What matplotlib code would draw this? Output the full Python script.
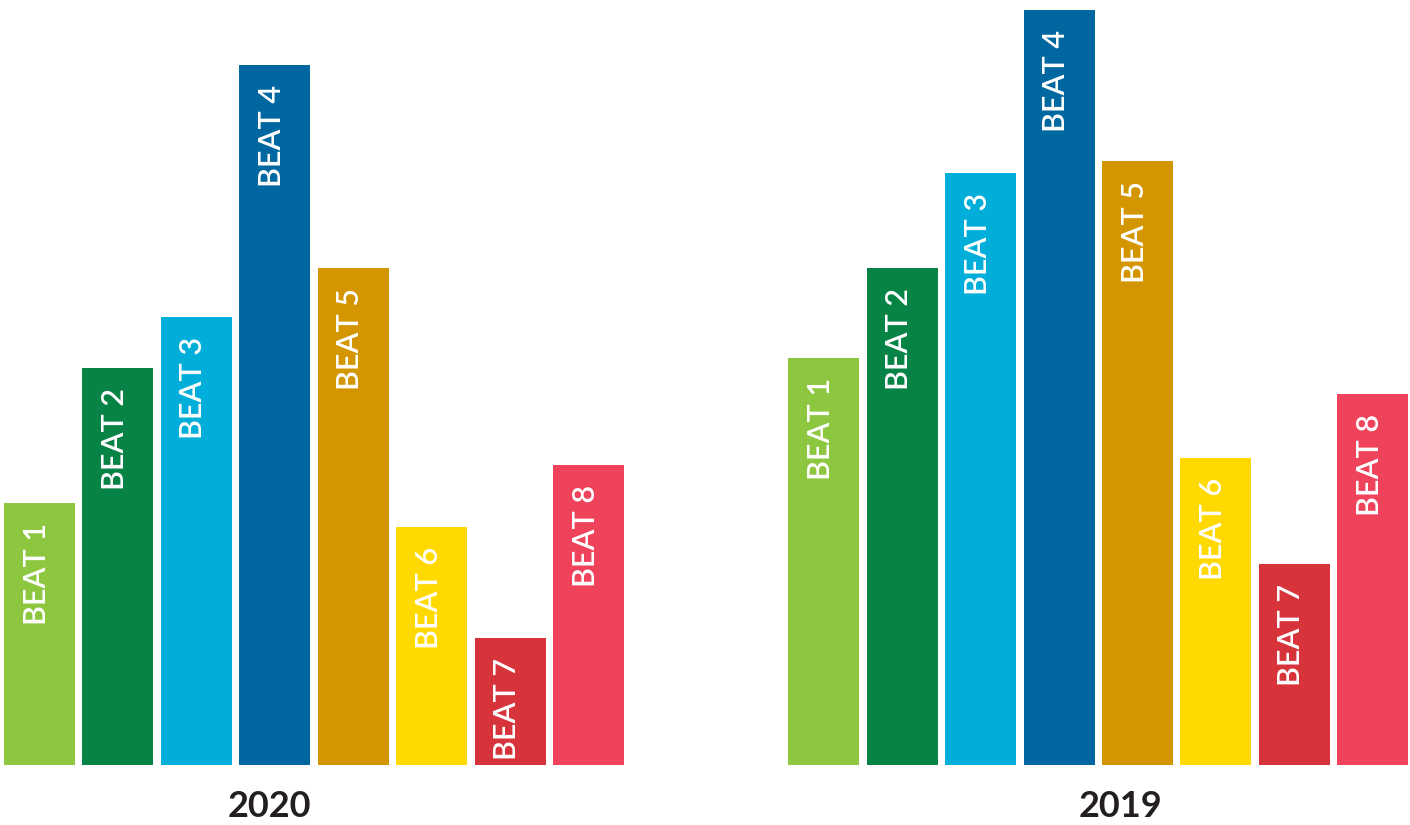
import matplotlib
matplotlib.use('Agg')
import matplotlib.pyplot as plt
import numpy as np

years = ['2020', '2019']
beats = ['BEAT 1', 'BEAT 2', 'BEAT 3', 'BEAT 4', 'BEAT 5', 'BEAT 6', 'BEAT 7', 'BEAT 8']
values_2020 = [262, 397, 448, 700, 497, 238, 127, 300]
values_2019 = [407, 497, 592, 755, 604, 307, 201, 371]
colors = ['#8DC63F', '#078346', '#00AED9', '#0067A0', '#D39600', '#FFD900', '#D7333A', '#EE435A']

fig = plt.figure(figsize=(14.1, 8.25), dpi=100)
ax = fig.add_axes([0, 60 / 825, 1, 765 / 825])

ind = np.arange(len(beats))
group_gap = 10
for g, vals in enumerate([values_2020, values_2019]):
    x = ind + g * group_gap
    ax.bar(x, vals, width=0.905, color=colors, align='center')
    for xi, v, lab in zip(x, vals, beats):
        ax.annotate(lab, (xi, v), xytext=(-3, -20), textcoords='offset pixels',
                    rotation=90, ha='center', va='top', color='white',
                    fontsize=22, family='Lato', fontweight='semibold')

ax.set_xlim(-0.504, 17.474)
ax.set_ylim(0, 765)
ax.set_xticks([2.93, 13.78])
ax.set_xticklabels(years, fontsize=26, fontweight='bold', color='#231F20', family='Lato')
ax.tick_params(axis='x', length=0, pad=18)
ax.set_yticks([])
for s in ax.spines.values():
    s.set_visible(False)

plt.savefig('out.png', dpi=100)
